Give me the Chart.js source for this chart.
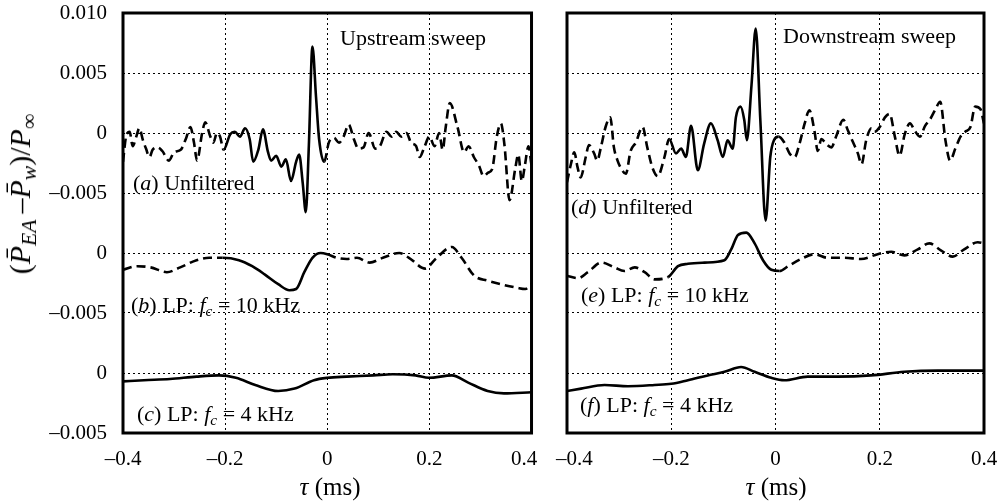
<!DOCTYPE html>
<html>
<head>
<meta charset="utf-8">
<script src="https://cdn.jsdelivr.net/npm/chart.js@4.4.0/dist/chart.umd.min.js"></script>
<style>
  body { margin: 0; background: #fff; width: 1005px; height: 504px; position: relative; overflow: hidden;
         font-family: "Liberation Serif", serif; color: #000; }
  .wrap { position: absolute; top: 0; height: 504px; }
  .lbl { position: absolute; font-size: 22px; line-height: 1; white-space: nowrap; }
  .lbl sub { font-size: 0.7em; vertical-align: -0.25em; line-height: 0; }
  #ytitle sub { font-size: 0.72em; vertical-align: -0.28em; line-height: 0; }
  .xt { position: absolute; top: 474px; font-size: 25px; line-height: 1; transform: translateX(-50%); white-space: nowrap; }
  #ytitle { position: absolute; left: 20px; top: 194px; font-size: 30px; line-height: 1; white-space: nowrap;
            transform: translate(-50%, -50%) rotate(-90deg); }
</style>
</head>
<body>
<div class="wrap" style="left:0;width:552px"><canvas id="left" width="552" height="504"></canvas></div>
<div class="wrap" style="left:540px;width:465px"><canvas id="right" width="465" height="504"></canvas></div>

<div id="ytitle">(<i>P&#772;</i><sub><i>EA</i></sub>&#8201;&#8211;<i>P&#772;</i><sub><i>w</i></sub>)/<i>P</i><sub>&#8734;</sub></div>
<div class="xt" style="left:330px"><i>&#964;</i> (ms)</div>
<div class="xt" style="left:776px"><i>&#964;</i> (ms)</div>

<div class="lbl" style="left:340px;top:27px">Upstream sweep</div>
<div class="lbl" style="left:133px;top:172px">(<i>a</i>) Unfiltered</div>
<div class="lbl" style="left:131px;top:294px">(<i>b</i>) LP: <i>f</i><sub><i>c</i></sub> = 10 kHz</div>
<div class="lbl" style="left:137px;top:403px">(<i>c</i>) LP: <i>f</i><sub><i>c</i></sub> = 4 kHz</div>
<div class="lbl" style="left:783px;top:25px">Downstream sweep</div>
<div class="lbl" style="left:571px;top:196px">(<i>d</i>) Unfiltered</div>
<div class="lbl" style="left:581px;top:284px">(<i>e</i>) LP: <i>f</i><sub><i>c</i></sub> = 10 kHz</div>
<div class="lbl" style="left:580px;top:394px">(<i>f</i>) LP: <i>f</i><sub><i>c</i></sub> = 4 kHz</div>

<script>
// tau (ms), pressure difference / P_inf
const upUnfiltered = [
  [-0.400,-0.0024],[-0.394,-0.0003],[-0.387,0.0001],[-0.381,-0.0011],[-0.374,-0.0003],[-0.368,0.0004],
  [-0.361,-0.0006],[-0.355,-0.0013],[-0.348,-0.0020],[-0.342,-0.0014],[-0.332,-0.0012],[-0.323,-0.0015],
  [-0.310,-0.0023],[-0.300,-0.0016],[-0.287,-0.0014],[-0.277,-0.0005],[-0.268,0.0005],[-0.261,-0.0008],
  [-0.255,-0.0023],[-0.245,0.0000],[-0.239,0.0009],[-0.229,-0.0003],[-0.223,-0.0008],[-0.216,0.0000],
  [-0.210,-0.0003],[-0.203,-0.0014],[-0.190,-0.0001],[-0.181,0.0001],[-0.171,-0.0003],[-0.161,0.0004],
  [-0.152,-0.0005],[-0.145,-0.0024],[-0.135,-0.0014],[-0.126,0.0003],[-0.116,-0.0016],[-0.110,-0.0023],
  [-0.100,-0.0019],[-0.090,-0.0028],[-0.081,-0.0022],[-0.071,-0.0040],[-0.061,-0.0024],[-0.055,-0.0018],
  [-0.048,-0.0042],[-0.042,-0.0066],[-0.036,-0.0010],[-0.029,0.0072],[-0.022,0.0030],[-0.016,-0.0005],
  [-0.006,-0.0024],[0.003,-0.0008],[0.013,-0.0004],[0.023,-0.0008],[0.032,-0.0003],[0.042,0.0007],
  [0.052,-0.0005],[0.061,-0.0013],[0.071,-0.0012],[0.081,0.0000],[0.094,-0.0013],[0.103,-0.0011],
  [0.116,0.0001],[0.126,-0.0003],[0.135,0.0001],[0.145,-0.0003],[0.155,0.0000],[0.164,-0.0008],
  [0.174,-0.0011],[0.181,-0.0020],[0.190,-0.0012],[0.200,-0.0003],[0.210,-0.0011],[0.219,0.0000],
  [0.226,-0.0014],[0.232,0.0005],[0.240,0.0025],[0.255,0.0005],[0.268,-0.0016],[0.277,-0.0011],
  [0.287,-0.0020],[0.297,-0.0027],[0.306,-0.0036],[0.315,-0.0033],[0.323,-0.0030],[0.332,-0.0003],
  [0.340,0.0008],[0.347,-0.0010],[0.357,-0.0056],[0.368,-0.0030],[0.374,-0.0018],[0.381,-0.0040],
  [0.387,-0.0027],[0.394,-0.0011],[0.400,-0.0027]
];
const upLP10 = [
  [-0.400,-0.0014],[-0.372,-0.0011],[-0.346,-0.0012],[-0.314,-0.0016],[-0.288,-0.0012],[-0.256,-0.0006],
  [-0.231,-0.0004],[-0.205,-0.0004],[-0.173,-0.0006],[-0.147,-0.0011],[-0.122,-0.0018],[-0.096,-0.0026],
  [-0.074,-0.0031],[-0.061,-0.0030],[-0.045,-0.0016],[-0.029,-0.0004],[-0.013,0.0000],[0.000,-0.0001],
  [0.019,-0.0004],[0.038,-0.0005],[0.058,-0.0004],[0.083,-0.0008],[0.109,-0.0004],[0.141,0.0000],
  [0.160,-0.0004],[0.192,-0.0013],[0.212,-0.0005],[0.244,0.0005],[0.263,-0.0004],[0.288,-0.0019],
  [0.314,-0.0023],[0.340,-0.0026],[0.372,-0.0029],[0.388,-0.0030],[0.400,-0.0026]
];
const upLP4 = [
  [-0.400,-0.0007],[-0.359,-0.0006],[-0.308,-0.0005],[-0.256,-0.0003],[-0.212,-0.0002],[-0.179,-0.0004],
  [-0.141,-0.0010],[-0.096,-0.0015],[-0.064,-0.0013],[-0.026,-0.0006],[0.000,-0.0004],[0.038,-0.0003],
  [0.090,-0.0002],[0.128,-0.0001],[0.173,-0.0002],[0.199,-0.0004],[0.244,-0.0002],[0.276,-0.0008],
  [0.314,-0.0015],[0.346,-0.0017],[0.400,-0.0016]
];
const downUnfiltered = [
  [-0.400,-0.0041],[-0.392,-0.0025],[-0.386,-0.0016],[-0.380,-0.0028],[-0.374,-0.0037],[-0.364,-0.0020],
  [-0.358,-0.0010],[-0.348,-0.0017],[-0.342,-0.0023],[-0.335,-0.0012],[-0.326,0.0005],[-0.317,0.0013],
  [-0.310,-0.0012],[-0.303,-0.0023],[-0.297,-0.0029],[-0.287,-0.0034],[-0.278,-0.0015],[-0.268,-0.0008],
  [-0.255,0.0005],[-0.246,-0.0012],[-0.236,-0.0029],[-0.226,-0.0036],[-0.213,-0.0020],[-0.204,-0.0005],
  [-0.191,-0.0017],[-0.181,-0.0013],[-0.172,-0.0020],[-0.162,0.0006],[-0.149,-0.0031],[-0.137,-0.0009],
  [-0.124,0.0008],[-0.111,-0.0006],[-0.101,-0.0020],[-0.092,-0.0006],[-0.082,-0.0013],[-0.076,0.0013],
  [-0.067,0.0022],[-0.060,0.0011],[-0.055,-0.0006],[-0.046,0.0040],[-0.038,0.0087],[-0.029,0.0010],
  [-0.019,-0.0073],[-0.010,-0.0020],[-0.003,-0.0006],[0.006,-0.0003],[0.017,-0.0008],[0.027,-0.0017],
  [0.037,-0.0020],[0.046,-0.0009],[0.056,0.0008],[0.065,0.0019],[0.075,0.0001],[0.081,-0.0015],
  [0.088,-0.0005],[0.097,-0.0009],[0.107,-0.0012],[0.117,-0.0002],[0.130,0.0011],[0.139,0.0002],
  [0.149,-0.0008],[0.158,-0.0017],[0.165,-0.0026],[0.174,-0.0006],[0.184,0.0004],[0.190,0.0001],
  [0.200,0.0005],[0.210,0.0013],[0.219,0.0016],[0.229,-0.0003],[0.238,-0.0019],[0.248,-0.0001],
  [0.258,0.0008],[0.267,0.0002],[0.277,-0.0003],[0.287,0.0006],[0.296,0.0011],[0.306,0.0019],
  [0.316,0.0026],[0.326,-0.0006],[0.335,-0.0023],[0.345,-0.0013],[0.355,-0.0003],[0.364,0.0001],
  [0.374,0.0005],[0.383,0.0022],[0.393,0.0020],[0.400,0.0008]
];
const downLP10 = [
  [-0.400,-0.0019],[-0.379,-0.0021],[-0.360,-0.0016],[-0.334,-0.0008],[-0.309,-0.0012],[-0.290,-0.0015],
  [-0.270,-0.0012],[-0.251,-0.0016],[-0.232,-0.0022],[-0.206,-0.0020],[-0.187,-0.0011],[-0.168,-0.0009],
  [-0.136,-0.0008],[-0.098,-0.0006],[-0.085,0.0003],[-0.072,0.0015],[-0.056,0.0017],[-0.040,0.0008],
  [-0.024,-0.0006],[-0.008,-0.0014],[0.008,-0.0015],[0.024,-0.0011],[0.049,-0.0005],[0.075,-0.0001],
  [0.100,-0.0004],[0.132,-0.0004],[0.164,-0.0005],[0.196,-0.0001],[0.222,0.0001],[0.247,-0.0002],
  [0.273,0.0003],[0.295,0.0008],[0.318,0.0002],[0.340,-0.0003],[0.362,0.0003],[0.388,0.0009],[0.400,0.0008]
];
const downLP4 = [
  [-0.400,-0.0015],[-0.373,-0.0013],[-0.328,-0.0010],[-0.283,-0.0011],[-0.232,-0.0010],[-0.200,-0.0009],
  [-0.168,-0.0006],[-0.130,-0.0002],[-0.098,0.0001],[-0.066,0.0005],[-0.040,0.0001],[-0.008,-0.0004],
  [0.017,-0.0006],[0.062,-0.0003],[0.119,-0.0003],[0.183,-0.0002],[0.247,0.0001],[0.311,0.0002],[0.400,0.0002]
];

// each trace is shifted down so the three sit one above the other
const traceOffsets = [0, -0.010, -0.020];
const yTickLabels = ['\u20130.005', '0', '\u20130.005', '0', '\u20130.005', '0', '0.005', '0.010'];
// the two labels where the panels meet are pushed apart a little, as in the figure
const xTickLabelsUp = ['\u20130.4', '\u20130.2', '0', '0.2', '0.4\u2002\u2009'];
const xTickLabelsDown = ['\u2002\u2009\u20130.4', '\u20130.2', '0', '0.2', '0.4'];

Chart.defaults.font.family = '"Liberation Serif", serif';
Chart.defaults.font.size = 21;
Chart.defaults.color = '#000';

const frame = {
  id: 'frame',
  afterDraw(chart) {
    const { ctx, chartArea: a } = chart;
    ctx.save();
    ctx.lineWidth = 3;
    ctx.strokeStyle = '#000';
    ctx.strokeRect(a.left, a.top, a.right - a.left, a.bottom - a.top);
    ctx.restore();
  }
};

function trace(points, offset, solidFrom, solidTo) {
  return {
    data: points.map(p => ({ x: p[0], y: p[1] + offset })),
    borderColor: '#000',
    borderWidth: 2.6,
    pointRadius: 0,
    cubicInterpolationMode: 'monotone',
    segment: {
      borderDash: ctx => {
        const mid = (ctx.p0.parsed.x + ctx.p1.parsed.x) / 2;
        return (mid >= solidFrom && mid <= solidTo) ? [] : [9, 5];
      }
    }
  };
}

// tick marks are invisible; their length only pushes the labels off the frame
function makeChart(id, sets, showY, xLabels, pad) {
  return new Chart(document.getElementById(id), {
    type: 'line',
    data: { datasets: sets },
    plugins: [frame],
    options: {
      responsive: false,
      animation: false,
      layout: { padding: pad },
      plugins: { legend: { display: false }, tooltip: { enabled: false } },
      scales: {
        x: {
          type: 'linear', min: -0.4, max: 0.4,
          afterFit: s => { s.height = 71; },
          grid: { color: '#000', lineWidth: 1, tickLength: 14, tickColor: 'rgba(0,0,0,0)' },
          border: { display: false, dash: [2, 3] },
          ticks: {
            stepSize: 0.2, padding: 0, maxRotation: 0, autoSkip: false,
            callback: v => xLabels[Math.round((v + 0.4) / 0.2)]
          }
        },
        y: {
          type: 'linear', min: -0.025, max: 0.010,
          afterFit: s => { s.width = showY ? 123 : 0; },
          grid: { color: '#000', lineWidth: 1, drawTicks: showY, tickLength: 16, tickColor: 'rgba(0,0,0,0)' },
          border: { display: false, dash: [2, 3] },
          ticks: {
            display: showY, stepSize: 0.005, padding: 0, autoSkip: false,
            callback: v => yTickLabels[Math.round((v + 0.025) / 0.005)]
          }
        }
      }
    }
  });
}

makeChart('left', [
  trace(upUnfiltered, traceOffsets[0], -0.203, -0.005),
  trace(upLP10, traceOffsets[1], -0.205, 0.0),
  trace(upLP4, traceOffsets[2], -1, 1)
], true, xTickLabelsUp, { top: 13, right: 15, left: 0, bottom: 0 });

makeChart('right', [
  trace(downUnfiltered, traceOffsets[0], -0.204, 0.004),
  trace(downLP10, traceOffsets[1], -0.206, 0.012),
  trace(downLP4, traceOffsets[2], -1, 1)
], false, xTickLabelsDown, { top: 13, right: 21, left: 27, bottom: 0 });
</script>
</body>
</html>
